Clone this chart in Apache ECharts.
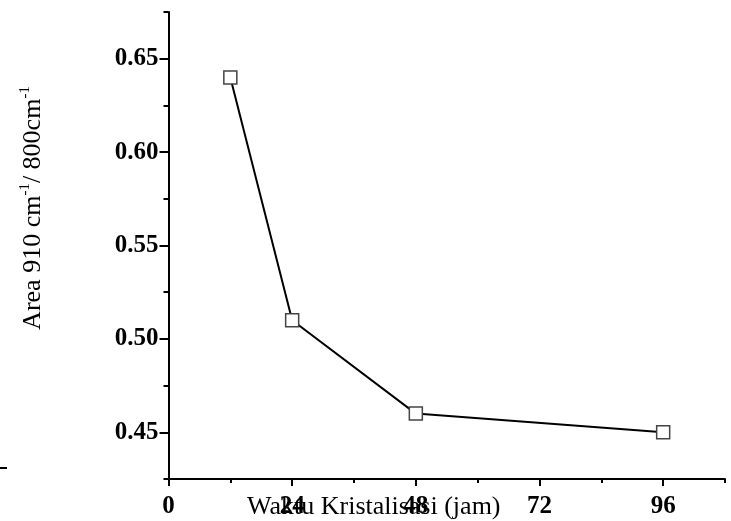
<!DOCTYPE html>
<html>
<head>
<meta charset="utf-8">
<script src="https://cdn.jsdelivr.net/npm/echarts@6/dist/echarts.min.js"></script>
<style>
  html, body { margin: 0; padding: 0; background: #fff; }
  #chart { width: 731px; height: 521px; }
</style>
</head>
<body>
<div id="chart"></div>
<script>
// Waktu kristalisasi vs area ratio
const waktu = [12, 24, 48, 96]
const areaRatio = [0.64, 0.51, 0.46, 0.45]
const xMajorTicks = [0, 24, 48, 72, 96]
const yMajorTicks = [0.45, 0.5, 0.55, 0.6, 0.65]

const serif = '"Liberation Serif", "DejaVu Serif", serif'

const chart = echarts.init(document.getElementById('chart'), null, { renderer: 'canvas' })

const option = {
  animation: false,
  grid: {
    left: 168.5,
    right: 6,
    top: 12,
    bottom: 42,
  },
  xAxis: [
    {
      type: 'value',
      min: 0,
      max: 108,
      axisLine: { lineStyle: { color: '#000', width: 2 } },
      axisTick: {
        customValues: xMajorTicks,
        length: 7,
        lineStyle: { color: '#000', width: 2 },
      },
      axisLabel: {
        customValues: xMajorTicks,
        margin: 15,
        color: '#000',
        fontFamily: serif,
        fontWeight: 'bold',
        fontSize: 25,
      },
      splitLine: { show: false },
    },
    {
      // minor ticks
      type: 'value',
      position: 'bottom',
      min: 0,
      max: 108,
      interval: 12,
      axisLine: { show: false },
      axisTick: { length: 4, lineStyle: { color: '#000', width: 2 } },
      axisLabel: { show: false },
      splitLine: { show: false },
    },
  ],
  yAxis: [
    {
      type: 'value',
      min: 0.425,
      max: 0.675,
      axisLine: { show: true, lineStyle: { color: '#000', width: 2 } },
      axisTick: {
        show: true,
        customValues: yMajorTicks,
        length: 9,
        lineStyle: { color: '#000', width: 2 },
      },
      axisLabel: {
        customValues: yMajorTicks,
        margin: 10,
        color: '#000',
        fontFamily: serif,
        fontWeight: 'bold',
        fontSize: 25,
        formatter: (v) => v.toFixed(2),
      },
      splitLine: { show: false },
    },
    {
      // minor ticks
      type: 'value',
      position: 'left',
      min: 0.425,
      max: 0.675,
      interval: 0.025,
      axisLine: { show: false },
      axisTick: { show: true, length: 5, lineStyle: { color: '#000', width: 2 } },
      axisLabel: { show: false },
      splitLine: { show: false },
    },
  ],
  series: [
    {
      type: 'line',
      data: waktu.map((x, i) => [x, areaRatio[i]]),
      symbol: 'rect',
      symbolSize: 13,
      showAllSymbol: true,
      lineStyle: { color: '#000', width: 2 },
      itemStyle: { color: '#fff', borderColor: '#444', borderWidth: 1.5 },
    },
  ],
  graphic: [
    {
      type: 'text',
      left: 247,
      top: 494,
      style: {
        text: 'Waktu Kristalisasi (jam)',
        fill: '#000',
        font: '26px "Liberation Serif", serif',
      },
    },
    {
      type: 'text',
      x: 31,
      y: 208,
      rotation: Math.PI / 2,
      style: {
        text: '{m|Area 910 cm}{s|-1}{m|/ 800cm}{s|-1}',
        align: 'center',
        verticalAlign: 'middle',
        fill: '#000',
        rich: {
          m: { fontFamily: serif, fontSize: 26, lineHeight: 30, verticalAlign: 'bottom' },
          s: { fontFamily: serif, fontSize: 15, lineHeight: 30, verticalAlign: 'top', padding: [2, 0, 0, 0] },
        },
      },
    },
    {
      type: 'line',
      shape: { x1: 0, y1: 468, x2: 7, y2: 468 },
      style: { stroke: '#000', lineWidth: 2 },
    },
  ],
}

chart.setOption(option)
</script>
</body>
</html>
